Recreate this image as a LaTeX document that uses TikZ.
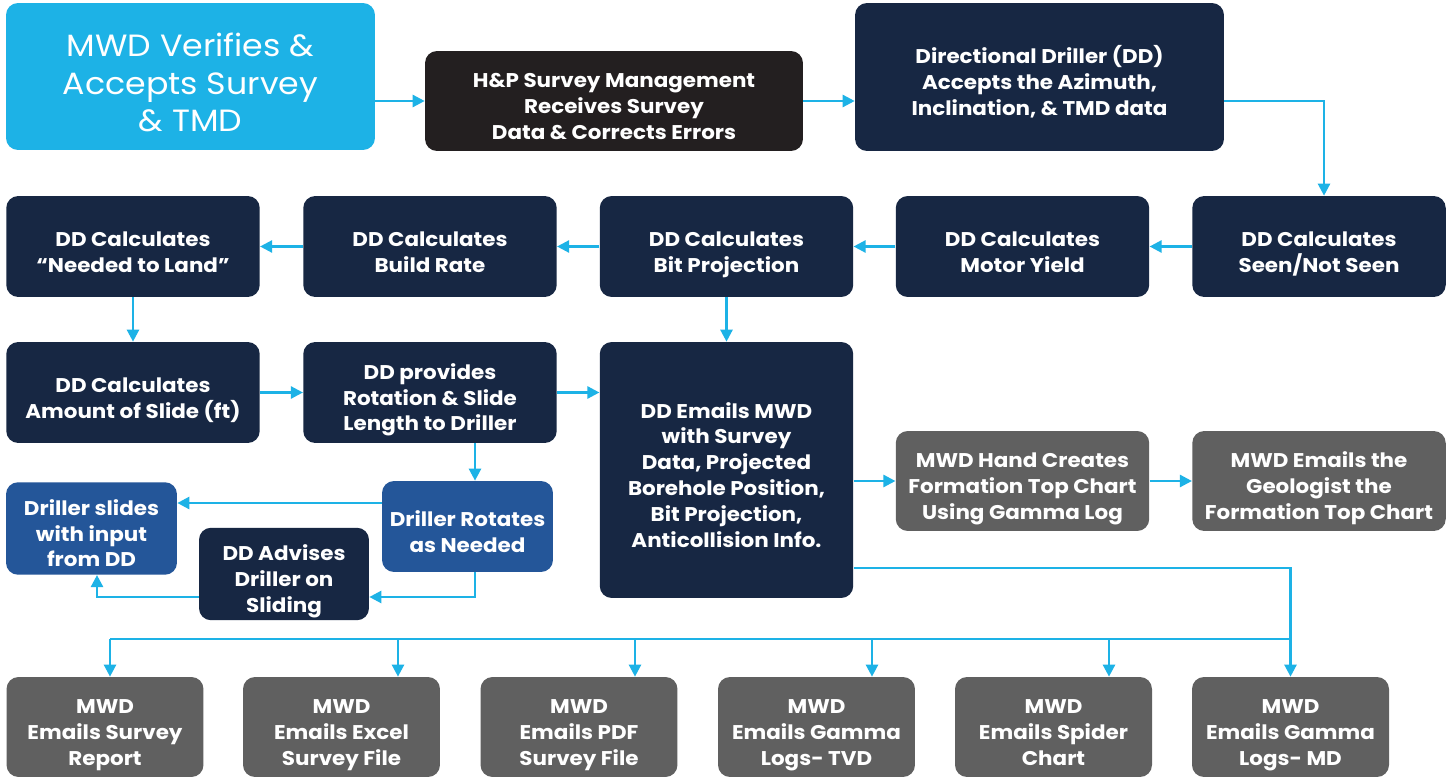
\documentclass[tikz,border=0pt]{standalone}
\usepackage{fontspec}
\setmainfont{Poppins}[FakeStretch=1.08]
\usetikzlibrary{arrows.meta}
\definecolor{skyb}{HTML}{1DB2E6}
\definecolor{navy}{HTML}{172743}
\definecolor{inkblk}{HTML}{231F20}
\definecolor{midblue}{HTML}{245699}
\definecolor{slate}{HTML}{606060}
\newcommand\lift{\rule{0pt}{18.8pt}}
\tikzset{
  box/.style={rounded corners=0.24cm, text=white, align=center, inner sep=0pt,
    font=\bfseries\fontsize{11.3}{14.7}\selectfont, execute at end node=\strut},
  rowbox/.style={box, fill=navy, minimum width=5.07cm, minimum height=2.02cm},
  mailbox/.style={box, fill=slate, minimum width=3.94cm, minimum height=2cm},
  smallbox/.style={box, fill=midblue, minimum width=3.42cm, minimum height=1.82cm},
  flow/.style={skyb, line width=1.4pt, -{Triangle[length=0.24cm,width=0.24cm]}},
  busline/.style={skyb, line width=1.4pt}
}
\begin{document}
\begin{tikzpicture}[x=0.02cm,y=-0.02cm]
\useasboundingbox[fill=white] (0,0) rectangle (1452,780);

% top row
\node[box, fill=skyb, minimum width=7.38cm, minimum height=2.94cm,
  font=\fontsize{17.5}{21.5}\selectfont] (verify) at (190.5,76.5)
  {\rule{0pt}{26.4pt}MWD Verifies \&\\Accepts Survey\\\& TMD};
\node[box, fill=inkblk, minimum width=7.56cm, minimum height=2cm] (hpsm) at (614,101)
  {\lift H\&P Survey Management\\Receives Survey\\Data \& Corrects Errors};
\node[box, fill=navy, minimum width=7.38cm, minimum height=2.96cm] (ddaccept) at (1039.5,77)
  {\lift Directional Driller (DD)\\Accepts the Azimuth,\\Inclination, \& TMD data};

% second row
\node[rowbox] (land) at (133,246.5) {\lift DD Calculates\\“Needed to Land”};
\node[rowbox] (build) at (430,246.5) {\lift DD Calculates\\Build Rate};
\node[rowbox] (bitproj) at (726.5,246.5) {\lift DD Calculates\\Bit Projection};
\node[rowbox] (motor) at (1022.5,246.5) {\lift DD Calculates\\Motor Yield};
\node[rowbox] (seen) at (1319,246.5) {\lift DD Calculates\\Seen/Not Seen};

% third row
\node[rowbox] (slide) at (133,392.5) {\lift DD Calculates\\Amount of Slide (ft)};
\node[rowbox] (rotslide) at (430,392.5) {\lift DD provides\\Rotation \& Slide\\Length to Driller};
\node[rowbox, minimum height=5.12cm] (ddmail) at (726.5,470)
  {\lift DD Emails MWD\\with Survey\\Data, Projected\\Borehole Position,\\Bit Projection,\\Anticollision Info.};
\node[box, fill=slate, minimum width=5.07cm, minimum height=2cm] (handchart) at (1022.5,481)
  {\lift MWD Hand Creates\\Formation Top Chart\\Using Gamma Log};
\node[box, fill=slate, minimum width=5.07cm, minimum height=2cm] (geochart) at (1319,481)
  {\lift MWD Emails the\\Geologist the\\Formation Top Chart};

% driller boxes
\node[smallbox] (slides) at (91.5,528.5) {\lift Driller slides\\with input\\from DD};
\node[smallbox] (rotates) at (467.5,526.5) {\lift Driller Rotates\\as Needed};
\node[smallbox, fill=navy, minimum width=3.4cm, minimum height=1.84cm] (advise) at (284,574)
  {\lift DD Advises\\Driller on\\Sliding};

% bottom row
\node[mailbox] (report) at (105,727) {\lift MWD\\Emails Survey\\Report};
\node[mailbox] (excel) at (341.5,727) {\lift MWD\\Emails Excel\\Survey File};
\node[mailbox] (pdf) at (579,727) {\lift MWD\\Emails PDF\\Survey File};
\node[mailbox] (gtvd) at (816.5,727) {\lift MWD\\Emails Gamma\\Logs- TVD};
\node[mailbox] (spider) at (1053.5,727) {\lift MWD\\Emails Spider\\Chart};
\node[mailbox] (gmd) at (1290.5,727) {\lift MWD\\Emails Gamma\\Logs- MD};

% connectors
\draw[flow] (verify.east |- hpsm.east) -- (hpsm.east -| verify.east) -- (hpsm.west);
\draw[flow] (hpsm.east) -- (hpsm.east -| ddaccept.west);
\draw[flow] (hpsm.east -| ddaccept.east) -| ([xshift=0.1cm]seen.north);
\draw[flow] (seen) -- (motor);
\draw[flow] (motor) -- (bitproj);
\draw[flow] (bitproj) -- (build);
\draw[flow] (build) -- (land);
\draw[flow] (land) -- (slide);
\draw[flow] (slide) -- (rotslide);
\draw[flow] (rotslide.east) -- (rotslide.east -| ddmail.west);
\draw[flow] (bitproj) -- (ddmail.north);
\draw[flow] ([xshift=0.15cm]rotates.north |- rotslide.south) -- ([xshift=0.15cm]rotates.north);
\draw[flow] ([yshift=0.47cm]rotates.west) -- ([yshift=0.47cm]rotates.west -| slides.east);
\draw[flow] ([xshift=0.15cm]rotates.south) |- ([yshift=-0.46cm]advise.east);
\draw[flow] ([yshift=-0.46cm]advise.west) -| ([xshift=0.11cm]slides.south);
\draw[flow] (ddmail.east |- handchart) -- (handchart.west);
\draw[flow] (handchart) -- (geochart);

% mail bus
\coordinate (bus) at (0,639);
\draw[flow] ([yshift=-1.96cm]ddmail.east) -| (gmd.north);
\draw[busline] ([xshift=0.1cm]bus -| report.north) -- (bus -| gmd.north);
\draw[flow] ([xshift=0.1cm]bus -| report.north) -- ([xshift=0.1cm]report.north);
\draw[flow] ([xshift=1.13cm]bus -| excel.north) -- ([xshift=1.13cm]excel.north);
\draw[flow] ([xshift=1.12cm]bus -| pdf.north) -- ([xshift=1.12cm]pdf.north);
\draw[flow] ([xshift=1.11cm]bus -| gtvd.north) -- ([xshift=1.11cm]gtvd.north);
\draw[flow] ([xshift=1.11cm]bus -| spider.north) -- ([xshift=1.11cm]spider.north);
\end{tikzpicture}
\end{document}
